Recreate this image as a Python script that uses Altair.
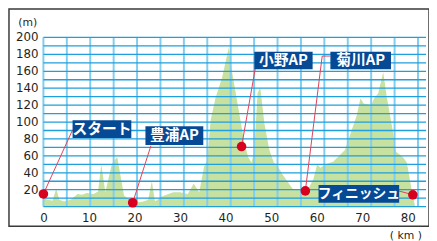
import altair as alt
import pandas as pd

# elevation profile (km, m)
km = [0, 1, 2, 2.8, 3.5, 4.5, 6, 7.5, 8.5, 9.5, 11, 12, 12.7, 13.6, 15, 16.2, 17.7, 19,
      20.5, 22, 23, 23.8, 24.5, 26, 28.5, 30, 31.7, 33, 34.2, 35.3, 36, 36.7, 37.8, 39.2,
      40.7, 41.4, 42, 43, 44.2, 45, 45.7, 46.3, 47, 47.6, 48.5, 49.6, 50.6, 51.2, 52.5,
      54.7, 56.9, 58, 59.3, 60.1, 60.8, 61.9, 63.6, 66.2, 67.7, 68.8, 69.6, 70.3, 72,
      72.6, 73.5, 74.6, 75.4, 76.5, 77.4, 79, 79.8, 80.8, 81.6]
elev = [10, 8, 7, 21, 8, 6, 8, 15, 14, 16, 15, 18, 50, 17, 50, 59, 13, 8,
        5, 6, 8, 30, 6, 12, 17, 17, 15, 27, 17, 48, 55, 102, 129, 152,
        188, 160, 141, 110, 73, 58, 52, 67, 134, 141, 99, 67, 52, 50, 38,
        21, 19, 19, 33, 50, 46, 50, 53, 67, 91, 108, 128, 122, 120,
        128, 134, 159, 129, 96, 65, 58, 52, 21, 0]

x_ticks = [0, 10, 20, 30, 40, 50, 60, 70, 80]
y_ticks = [20, 40, 60, 80, 100, 120, 140, 160, 180, 200]
y_grid = list(range(0, 201, 10))
x_grid = list(range(0, 17))

names = ["スタート", "豊浦AP", "小野AP", "菊川AP", "フィニッシュ"]
dot_km = [0, 19.6, 43.5, 57.5, 81.1]
dot_m = [15, 4.6, 71, 18.6, 14]
box_x1 = [6.4, 22.4, 46.3, 63.0, 60.4]
box_x2 = [19.3, 35.1, 59.1, 76.3, 78.1]
box_top = [102, 95, 183, 183, 25.6]
box_bot = [81, 73, 162.5, 162.5, 4.7]
font_sz = [15, 15, 15, 15, 14]

lead_name = ["スタート", "スタート", "豊浦AP", "豊浦AP", "小野AP", "小野AP",
             "菊川AP", "菊川AP", "菊川AP", "フィニッシュ", "フィニッシュ"]
lead_ord = [0, 1, 0, 1, 0, 1, 0, 1, 2, 0, 1]
lead_km = [0, 6.4, 19.6, 23.6, 43.5, 46.5, 57.5, 61.2, 63.0, 81.1, 78.0]
lead_m = [15, 90.7, 4.6, 72, 71, 163, 18.6, 178, 178, 14, 18.6]

W, H = 389, 172
XD = [0, 84]
FONT = "DejaVu Sans"
TXT = "#231f20"

prof = pd.DataFrame({"km": km, "m": elev})
ann = pd.DataFrame({"name": names, "dk": dot_km, "dm": dot_m, "x1": box_x1, "x2": box_x2,
                    "yt": box_top, "yb": box_bot, "fs": font_sz,
                    "xc": [(a + b) / 2 for a, b in zip(box_x1, box_x2)],
                    "yc": [(a + b) / 2 for a, b in zip(box_top, box_bot)]})
lead = pd.DataFrame({"name": lead_name, "o": lead_ord, "km": lead_km, "m": lead_m})

ys = alt.Scale(domain=[0, 200], nice=False, zero=False)
xs = alt.Scale(domain=XD, nice=False, zero=False)

frame = alt.Chart(pd.DataFrame({"a": [0]})).mark_rect(
    fill=None, stroke="#3a3a3a", strokeWidth=1.5, clip=False
).encode(x=alt.value(-35), x2=alt.value(392), y=alt.value(-29), y2=alt.value(192))

area = alt.Chart(prof).mark_area(color="#c6e1a0", clip=True).encode(
    x=alt.X("km:Q", scale=xs, axis=alt.Axis(
        values=x_ticks, ticks=False, domain=False, grid=False, labelPadding=6,
        labelFlush=False, labelOverlap=False, labelFont=FONT, labelFontSize=12,
        labelColor=TXT,
        title="( km )", titleFont=FONT, titleFontSize=11, titleFontWeight="normal",
        titleColor=TXT, titleX=368, titleY=29, titleBaseline="middle")),
    y=alt.Y("m:Q", scale=ys, axis=None),
)

ylab = alt.Chart(pd.DataFrame({"t": y_ticks})).mark_text(
    font=FONT, fontSize=12, color=TXT, align="right", baseline="middle", clip=False
).encode(x=alt.value(-5), y=alt.Y("t:Q", scale=ys, axis=None), text="t:Q")

yunit = alt.Chart(pd.DataFrame({"u": ["(m)"]})).mark_text(
    font=FONT, fontSize=11, color=TXT, align="center", baseline="middle", clip=False
).encode(x=alt.value(-16), y=alt.value(-15), text="u:N")

vgrid = alt.Chart(pd.DataFrame({"g": x_grid})).mark_rule(
    color="#7fcdf0", strokeWidth=2
).encode(x=alt.X("g:Q", scale=alt.Scale(domain=[0, W / 23.8], nice=False, zero=False), axis=None))

hgrid = alt.Chart(pd.DataFrame({"v": y_grid})).mark_rule(
    color="#1f9fdb", strokeWidth=1.3
).encode(y=alt.Y("v:Q", scale=ys, axis=None))

leaders = alt.Chart(lead).mark_line(color="#e0405a", strokeWidth=1, clip=False).encode(
    x=alt.X("km:Q", scale=xs, axis=None),
    y=alt.Y("m:Q", scale=ys, axis=None),
    detail="name:N", order="o:Q")

dots = alt.Chart(ann).mark_circle(color="#d7001f", size=95, opacity=1, clip=False).encode(
    x=alt.X("dk:Q", scale=xs, axis=None),
    y=alt.Y("dm:Q", scale=ys, axis=None))

boxes = alt.Chart(ann).mark_rect(color="#064a96", clip=False).encode(
    x=alt.X("x1:Q", scale=xs, axis=None), x2="x2:Q",
    y=alt.Y("yt:Q", scale=ys, axis=None), y2="yb:Q")

texts = alt.Chart(ann).mark_text(
    color="white", font="Noto Sans CJK JP", fontWeight="bold",
    align="center", baseline="middle", clip=False
).encode(
    x=alt.X("xc:Q", scale=xs, axis=None),
    y=alt.Y("yc:Q", scale=ys, axis=None),
    text="name:N", size=alt.Size("fs:Q", scale=None))

chart = alt.layer(area, frame, vgrid, hgrid, ylab, yunit, leaders, dots, boxes, texts).resolve_scale(
    x="independent"
).properties(
    width=W, height=H,
    autosize=alt.AutoSizeParams(type="none"),
    padding={"left": 36, "top": 28, "right": 3, "bottom": 33},
).configure_view(stroke=None)

chart.save("out.html", embed_options={"renderer": "svg", "actions": False})
